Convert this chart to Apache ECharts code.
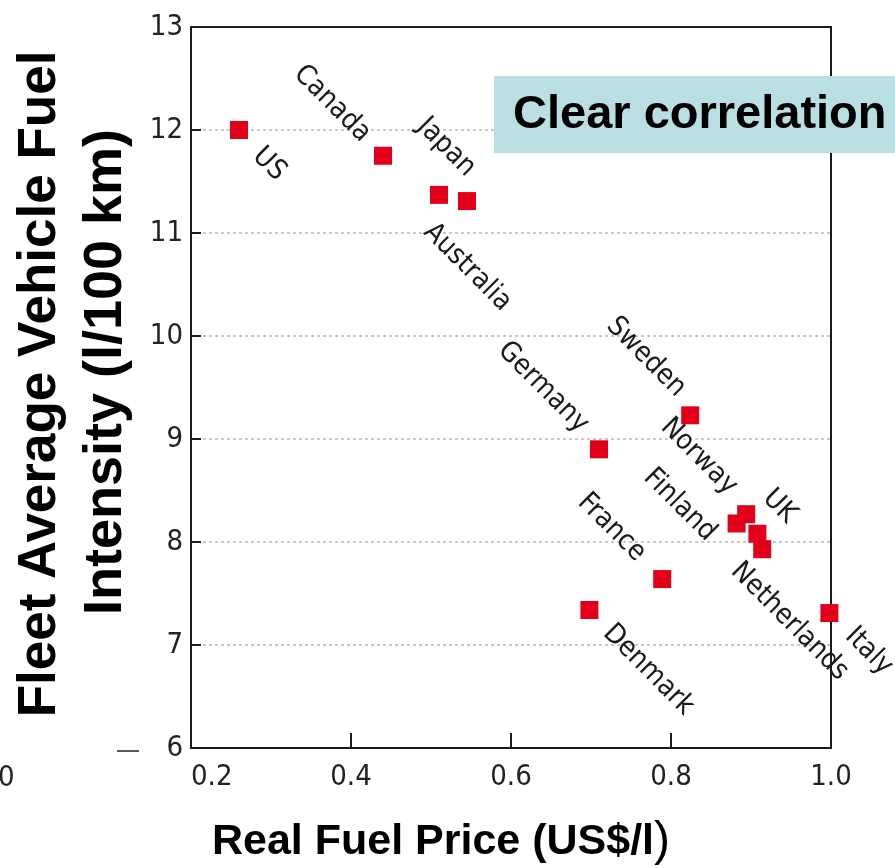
<!DOCTYPE html>
<html>
<head>
<meta charset="utf-8">
<script src="https://cdn.jsdelivr.net/npm/echarts@6/dist/echarts.min.js"></script>
<style>
html,body{margin:0;padding:0;background:#fff;}
#chart{width:895px;height:868px;}
</style>
</head>
<body>
<div id="chart"></div>
<script>
// ---- data ----
const countries = ['US','Canada','Australia','Japan','Germany','Sweden','Norway','UK','Finland','Netherlands','France','Denmark','Italy'];
const fuelPrice = [0.26, 0.44, 0.51, 0.545, 0.71, 0.824, 0.882, 0.894, 0.908, 0.914, 0.789, 0.698, 0.998];
const fuelIntensity = [12.0, 11.75, 11.37, 11.31, 8.90, 9.23, 8.18, 8.27, 8.08, 7.93, 7.64, 7.34, 7.31];
const xTicks = [0.2, 0.4, 0.6, 0.8, 1.0];
const yTicks = [6, 7, 8, 9, 10, 11, 12, 13];
const xTitle = 'Real Fuel Price (US$/l';
const yTitle1 = 'Fleet Average Vehicle Fuel';
const yTitle2 = 'Intensity (l/100 km)';
const note = 'Clear correlation';

// ---- label placement (styling) ----
const labelPlace = {
  'US': {pos: [27, 31], align: 'left'},
  'Canada': {pos: [-8, -9], align: 'right'},
  'Australia': {pos: [-2, 42], align: 'left'},
  'Japan': {pos: [13, -20], align: 'right'},
  'Germany': {pos: [-6, -12], align: 'right'},
  'Sweden': {pos: [0, -14], align: 'right'},
  'Norway': {pos: [5, -24], align: 'right'},
  'UK': {pos: [30, -11], align: 'left'},
  'Finland': {pos: [-37, 12], align: 'right'},
  'Netherlands': {pos: [-18, 27], align: 'left'},
  'France': {pos: [-12, -13], align: 'right'},
  'Denmark': {pos: [27, 28], align: 'left'},
  'Italy': {pos: [29, 28], align: 'left'}
};

const tickFont = "'DejaVu Sans Condensed', 'DejaVu Sans', sans-serif";
const boldFont = "'Liberation Sans', Arial, sans-serif";
const frameLine = {show: true, lineStyle: {color: '#1a1a1a', width: 2}};

const points = countries.map((c, i) => ({
  name: c,
  value: [fuelPrice[i], fuelIntensity[i]],
  label: {
    show: true,
    formatter: c,
    position: labelPlace[c].pos,
    align: labelPlace[c].align,
    verticalAlign: 'middle',
    rotate: -45
  }
}));

const chart = echarts.init(document.getElementById('chart'), null, {renderer: 'canvas'});
chart.setOption({
  animation: false,
  backgroundColor: '#ffffff',
  grid: {left: 191, right: 64, top: 27, bottom: 120, show: false},
  xAxis: [{
    type: 'value',
    min: xTicks[0], max: xTicks[xTicks.length - 1], interval: 0.2,
    axisLine: frameLine,
    axisTick: {show: true, inside: true, length: 15, lineStyle: {color: '#1a1a1a', width: 2}},
    splitLine: {show: false},
    axisLabel: {
      formatter: v => v.toFixed(1), fontFamily: tickFont, fontSize: 29, color: '#222', margin: 15,
      alignMinLabel: 'left'
    },
    z: 10
  }, {
    type: 'value', position: 'top',
    min: xTicks[0], max: xTicks[xTicks.length - 1], interval: 0.2,
    axisLine: frameLine, axisTick: {show: false}, axisLabel: {show: false}, splitLine: {show: false},
    z: 10
  }],
  yAxis: [{
    type: 'value',
    min: yTicks[0], max: yTicks[yTicks.length - 1], interval: 1,
    axisLine: frameLine,
    axisTick: {show: true, inside: true, length: 10, lineStyle: {color: '#1a1a1a', width: 2}},
    splitLine: {show: true, lineStyle: {color: '#b8b8b8', width: 1.5, type: [3, 3]}},
    axisLabel: {fontFamily: tickFont, fontSize: 29, color: '#222', margin: 8, padding: [0, 0, 8, 0]},
    z: 10
  }, {
    type: 'value', position: 'right',
    min: yTicks[0], max: yTicks[yTicks.length - 1], interval: 1,
    axisLine: frameLine, axisTick: {show: false}, axisLabel: {show: false}, splitLine: {show: false},
    z: 10
  }],
  series: [{
    type: 'scatter',
    symbol: 'rect',
    symbolSize: 18,
    itemStyle: {color: '#e2001a', opacity: 1},
    label: {fontFamily: tickFont, fontSize: 28, color: '#1a1a1a'},
    labelLayout: {hideOverlap: false},
    data: points,
    z: 30
  }],
  graphic: [
    {type: 'rect', left: 494, top: 76, shape: {width: 410, height: 77}, style: {fill: '#b9dfe2'}, z: 100},
    {type: 'text', x: 513, y: 115, z: 101, style: {text: note, font: 'bold 47px ' + boldFont, fill: '#000', verticalAlign: 'middle', align: 'left'}},
    {type: 'text', x: 40, y: 384, rotation: Math.PI / 2, z: 101, style: {text: yTitle1, font: 'bold 53px ' + boldFont, fill: '#000', verticalAlign: 'middle', align: 'center'}},
    {type: 'text', x: 106, y: 372, rotation: Math.PI / 2, z: 101, style: {text: yTitle2, font: 'bold 54px ' + boldFont, fill: '#000', verticalAlign: 'middle', align: 'center'}},
    {type: 'text', x: 441, y: 842, z: 101, style: {
      text: '{b|' + xTitle + '}{p|)}', align: 'center', verticalAlign: 'middle',
      rich: {
        b: {font: 'bold 43px ' + boldFont, fill: '#000'},
        p: {font: '48px ' + boldFont, fill: '#000'}
      }
    }},
    {type: 'text', x: -2, y: 778, z: 101, style: {text: '0', font: '29px ' + tickFont, fill: '#222', verticalAlign: 'middle', align: 'left'}},
    {type: 'line', z: 101, shape: {x1: 117, y1: 751, x2: 139, y2: 751}, style: {stroke: '#222', lineWidth: 1.5}}
  ]
});
</script>
</body>
</html>
